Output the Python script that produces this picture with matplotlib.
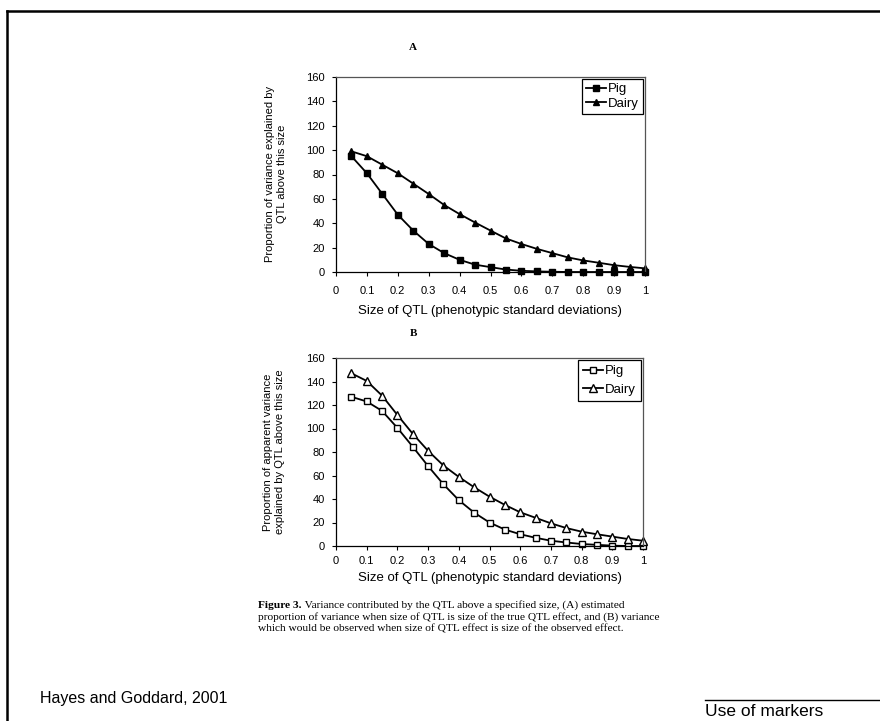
import matplotlib
matplotlib.use("Agg")
import matplotlib.pyplot as plt
from matplotlib.lines import Line2D

W, H = 880, 721

# ---- data ----
qtl_size = [0.05, 0.1, 0.15, 0.2, 0.25, 0.3, 0.35, 0.4, 0.45, 0.5,
            0.55, 0.6, 0.65, 0.7, 0.75, 0.8, 0.85, 0.9, 0.95, 1.0]
pig_a = [95, 81, 64, 47, 34, 23, 15.5, 10, 6, 4,
         2, 1, 0.5, 0.2, 0, 0, 0, 0, 0, 0]
dairy_a = [99, 95, 88, 81, 72.5, 64, 55, 47.5, 40.6, 34,
           27.5, 23, 19, 15.5, 12, 9.5, 7.6, 5.6, 4.2, 3]
pig_b = [127, 123, 115, 100.5, 84.5, 68, 52.5, 39, 28.4, 20,
         14, 10, 7, 4.5, 3, 1.7, 1, 0.3, 0, 0]
dairy_b = [147, 140.5, 128, 111.5, 95.5, 81, 68.5, 58.8, 50, 42,
           35, 28.7, 24, 19.3, 15.3, 12.2, 10, 8, 6, 4.5]

x_ticks = [0, 0.1, 0.2, 0.3, 0.4, 0.5, 0.6, 0.7, 0.8, 0.9, 1.0]
x_tick_labels = ["0", "0.1", "0.2", "0.3", "0.4", "0.5", "0.6", "0.7", "0.8", "0.9", "1"]
y_ticks = [0, 20, 40, 60, 80, 100, 120, 140, 160]

series_names = ["Pig", "Dairy"]
xlabel = "Size of QTL (phenotypic standard deviations)"
ylabel_a = "Proportion of variance explained by\nQTL above this size"
ylabel_b = "Proportion of apparent variance\nexplained by QTL above this size"
caption_bold = "Figure 3."
caption_lines = [
    " Variance contributed by the QTL above a specified size, (A) estimated",
    "proportion of variance when size of QTL is size of the true QTL effect, and (B) variance",
    "which would be observed when size of QTL effect is size of the observed effect.",
]
citation = "Hayes and Goddard, 2001"
footer = "Use of markers"

SANS = ["Liberation Sans", "DejaVu Sans"]
SERIF = ["Liberation Serif", "DejaVu Serif"]

fig = plt.figure(figsize=(W / 100, H / 100), dpi=100)
fig.patch.set_facecolor("white")


def px(x, y):
    return x / W, 1 - y / H


def make_axes(l, t, r, b):
    x0, y1 = px(l, t)
    x1, y0 = px(r, b)
    return fig.add_axes([x0, y0, x1 - x0, y1 - y0])


def style_axes(ax, xpad):
    ax.set_xlim(0, 1.0)
    ax.set_ylim(0, 160)
    ax.set_xticks(x_ticks)
    ax.set_xticklabels(x_tick_labels, fontfamily=SANS, fontsize=8)
    ax.set_yticks(y_ticks)
    ax.set_yticklabels([str(v) for v in y_ticks], fontfamily=SANS, fontsize=8)
    ax.tick_params(direction="out", length=3, width=0.8, pad=5, colors="black")
    ax.tick_params(axis="x", pad=xpad)
    for s in ax.spines.values():
        s.set_linewidth(0.9)
        s.set_color("black")
    ax.spines["top"].set_color("#555555")
    ax.spines["right"].set_color("#555555")


def add_legend(ax, spacing, pad):
    leg = ax.legend(loc="upper right", frameon=True, fancybox=False, edgecolor="black",
                    framealpha=1, borderaxespad=0.15, handlelength=1.5, handletextpad=0.15,
                    borderpad=pad, labelspacing=spacing, prop={"family": SANS, "size": 9.5})
    leg.get_frame().set_linewidth(0.9)
    return leg


# ---- Panel A ----
axA = make_axes(336, 77, 645, 272)
axA.plot(qtl_size, pig_a, color="black", lw=1.3, marker="s", ms=5,
         mfc="black", mec="black", label=series_names[0], clip_on=False)
axA.plot(qtl_size, dairy_a, color="black", lw=1.3, marker="^", ms=5,
         mfc="black", mec="black", label=series_names[1], clip_on=False)
style_axes(axA, 7)
add_legend(axA, 0.2, 0.3)
fig.text(*px(413, 48), "A", ha="center", va="center", fontfamily=SERIF,
         fontsize=8, fontweight="bold")
fig.text(*px(276, 174), ylabel_a, rotation=90, ha="center", va="center",
         fontfamily=SANS, fontsize=8, linespacing=1.3)
fig.text(*px(490, 311), xlabel, ha="center", va="center", fontfamily=SANS, fontsize=9.5)

# ---- Panel B ----
axB = make_axes(336, 358, 643, 546)
axB.plot(qtl_size, pig_b, color="black", lw=1.3, marker="s", ms=5,
         mfc="white", mec="black", mew=1.0, label=series_names[0], clip_on=False)
axB.plot(qtl_size, dairy_b, color="black", lw=1.3, marker="^", ms=5.5,
         mfc="white", mec="black", mew=1.0, label=series_names[1], clip_on=False)
style_axes(axB, 4)
add_legend(axB, 0.45, 0.4)
fig.text(*px(413, 334), "B", ha="center", va="center", fontfamily=SERIF,
         fontsize=8, fontweight="bold")
fig.text(*px(274, 452), ylabel_b, rotation=90, ha="center", va="center",
         fontfamily=SANS, fontsize=8, linespacing=1.3)
fig.text(*px(490, 578), xlabel, ha="center", va="center", fontfamily=SANS, fontsize=9.5)

# ---- caption ----
renderer = fig.canvas.get_renderer()
CAP = 8.2
tb = fig.text(*px(258, 605), caption_bold, ha="left", va="center",
              fontfamily=SERIF, fontsize=CAP, fontweight="bold")
bb = tb.get_window_extent(renderer=renderer)
fig.text(bb.x1 / W, 1 - 605 / H, caption_lines[0], ha="left", va="center",
         fontfamily=SERIF, fontsize=CAP)
fig.text(*px(258, 617), caption_lines[1], ha="left", va="center",
         fontfamily=SERIF, fontsize=CAP)
fig.text(*px(258, 629), caption_lines[2], ha="left", va="center",
         fontfamily=SERIF, fontsize=CAP)

# ---- footer / border ----
fig.text(*px(40, 698), citation, ha="left", va="center", fontfamily=SANS, fontsize=11.5)
fig.text(*px(705, 711), footer, ha="left", va="center", fontfamily=SANS, fontsize=12.5)

fig.add_artist(Line2D([px(705, 0)[0], 1.0], [px(0, 700)[1]] * 2, color="black", lw=1.0))
fig.add_artist(Line2D([px(7, 0)[0], 1.0], [px(0, 11)[1]] * 2, color="black", lw=1.8))
fig.add_artist(Line2D([px(7, 0)[0]] * 2, [px(0, 11)[1], 0.0], color="black", lw=1.8))

fig.savefig("out.png", dpi=100, facecolor="white")
